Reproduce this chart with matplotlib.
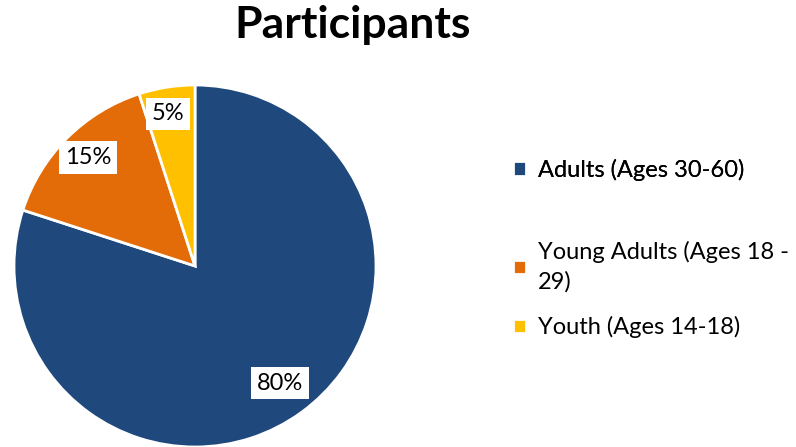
import matplotlib.pyplot as plt

labels = ['Adults (Ages 30-60)', 'Young Adults (Ages 18 -\n29)', 'Youth (Ages 14-18)']
shares = [80, 15, 5]
colors = ['#1F497D', '#E36C09', '#FFC000']

plt.rcParams['font.family'] = ['Lato', 'DejaVu Sans']

fig = plt.figure(figsize=(7.96, 4.47), dpi=100)
ax = fig.add_axes([14 / 796, 0, 362 / 796, 362 / 447])

wedges, texts, autotexts = ax.pie(
    shares, colors=colors, startangle=90, counterclock=False,
    autopct='%d%%', pctdistance=0.8,
    wedgeprops=dict(edgecolor='white', linewidth=2),
    textprops=dict(fontsize=17, color='black'))
for t in autotexts:
    t.set_bbox(dict(facecolor='white', edgecolor='none', pad=4))
# Excel pushes the small labels out a bit
autotexts[1].set_position((-0.59, 0.6))
autotexts[2].set_position((-0.15, 0.84))
ax.set_xlim(-1, 1)
ax.set_ylim(-1, 1)
ax.set_aspect('equal')

fig.text(0.443, 0.945, 'Participants', ha='center', va='center',
         fontsize=32, fontweight='bold')

# Excel leaves a wider gap under the first entry, so split the legend in two
leg_kw = dict(loc='center left', frameon=False, fontsize=17, handlelength=0.55,
              handleheight=0.55, handletextpad=0.5, labelspacing=1.0)
leg1 = fig.legend(wedges[:1], labels[:1], bbox_to_anchor=(0.618, 0.62), **leg_kw)
fig.add_artist(leg1)
leg2 = fig.legend(wedges[1:], labels[1:], bbox_to_anchor=(0.618, 0.352), **leg_kw)
for t in leg2.get_texts():
    t.set_linespacing(1.45)

fig.savefig('out.png', dpi=100)
